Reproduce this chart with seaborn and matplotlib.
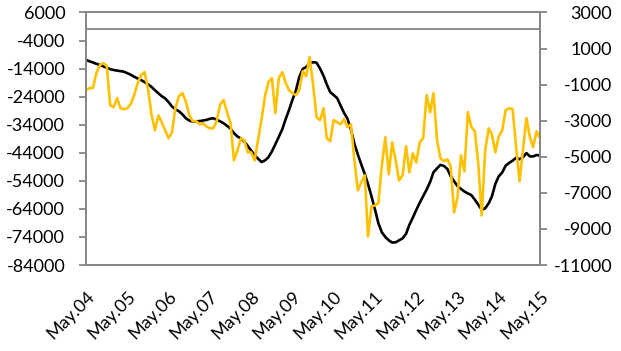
import pandas as pd
import matplotlib
matplotlib.use("Agg")
import matplotlib.pyplot as plt
import seaborn as sns

# monthly data, May 2004 - May 2015
months = pd.date_range("2004-05-01", periods=133, freq="MS")

# black line, left axis
cumulative = [
    -10900, -11400, -11800, -12300, -12700, -13200, -13700, -14200, -14500, -14700,
    -14900, -15100, -15600, -16200, -16900, -17500, -18100, -18800, -19600, -20500,
    -21700, -22800, -23800, -24600, -25900, -27500, -28500, -29200, -30300, -31700,
    -32500, -32900, -32800, -32700, -32500, -32300, -31900, -31700, -32200, -32800,
    -33500, -34400, -35400, -37000, -38200, -38900, -39900, -41600, -43200, -44800,
    -46100, -47300, -46700, -45600, -43500, -41000, -38300, -35600, -32200, -28800,
    -25200, -21800, -17000, -14100, -13400, -12100, -11700, -11900, -14000, -16600,
    -19600, -22400, -23400, -24500, -27100, -29800, -31900, -35600, -40800, -44600,
    -48200, -51600, -55100, -59500, -64100, -69100, -72300, -74000, -75200, -76000,
    -75900, -75200, -74500, -72900, -69700, -67100, -64400, -61800, -59500, -57100,
    -54400, -50900, -49600, -48300, -48700, -49800, -52300, -54100, -55900, -56900,
    -57800, -58500, -59100, -60700, -62500, -64300, -63800, -62000, -59600, -55100,
    -52400, -51000, -48600, -47600, -46800, -45800, -46300, -45600, -44100, -45300,
    -45300, -44800, -45000,
]

# yellow line, right axis
monthly = [
    -1310, -1190, -1190, -360, 80, 190, 30, -2140, -2250, -1750,
    -2310, -2360, -2310, -2080, -1580, -920, -470, -310, -1250, -2640,
    -3530, -2700, -3080, -3530, -3970, -3640, -2310, -1640, -1470, -1920,
    -2700, -3030, -3030, -3200, -3140, -3310, -3420, -3420, -3030, -2080,
    -1860, -2530, -3140, -5200, -4640, -3970, -4080, -4750, -4750, -5200,
    -4080, -2920, -1640, -860, -640, -2580, -640, -310, -860, -1310,
    -1470, -1580, -1310, -250, -530, 530, -1030, -2810, -2970, -2310,
    -3970, -4140, -2970, -3080, -3200, -2920, -3360, -3200, -5200, -6860,
    -6420, -6030, -9420, -7750, -7700, -7580, -5530, -3920, -5970, -4200,
    -5200, -6310, -6030, -4420, -5860, -4810, -5310, -4200, -3970, -1580,
    -2530, -1470, -4080, -5080, -5250, -5140, -5530, -8080, -7250, -4920,
    -5810, -2530, -3360, -3580, -5360, -8250, -4640, -3420, -3750, -4750,
    -3860, -3530, -2420, -2310, -2360, -4420, -6360, -4640, -2860, -3920,
    -4470, -3580, -3970,
]

left_ticks = list(range(-84000, 6001, 10000))
right_ticks = list(range(-11000, 3001, 2000))

df = pd.DataFrame({"month": months, "cumulative": cumulative, "monthly": monthly})

sns.set_style("white")
plt.rcParams["font.family"] = ["Lato", "DejaVu Sans"]
plt.rcParams["axes.unicode_minus"] = False

grey = "#868686"
fig = plt.figure(figsize=(6.21, 3.51), dpi=100)
ax = fig.add_axes([86 / 621, 1 - 265 / 351, 454 / 621, 252.5 / 351])
ax2 = ax.twinx()

ax.axhline(0, color=grey, lw=1.3, zorder=1)
sns.lineplot(data=df, x="month", y="cumulative", ax=ax, color="black", lw=1.9)
sns.lineplot(data=df, x="month", y="monthly", ax=ax2, color="#FFC000", lw=1.9)

ax.set_xlim(months[0], months[-1])
ax.set_ylim(-84000, 6000)
ax2.set_ylim(-11000, 3000)

ax.set_yticks(left_ticks)
ax.set_yticklabels([str(v) for v in left_ticks])
ax2.set_yticks(right_ticks)
ax2.set_yticklabels([str(v) for v in right_ticks], ha="right")

yearly = months[::12]
ax.set_xticks(yearly)
ax.set_xticklabels([d.strftime("%b.%y") for d in yearly], rotation=45,
                   ha="right", rotation_mode="anchor")

for a in (ax, ax2):
    a.set_xlabel("")
    a.set_ylabel("")
    for s in a.spines.values():
        s.set_color(grey)
        s.set_linewidth(1.3)
ax.tick_params(axis="x", length=0, pad=17, labelsize=13, colors="black")
ax.tick_params(axis="y", left=True, length=5, width=1.3, color=grey,
               pad=10, labelsize=13, labelcolor="black")
ax2.tick_params(axis="y", right=True, length=5, width=1.3, color=grey,
                pad=47, labelsize=13, labelcolor="black")

fig.savefig("out.png", dpi=100)
